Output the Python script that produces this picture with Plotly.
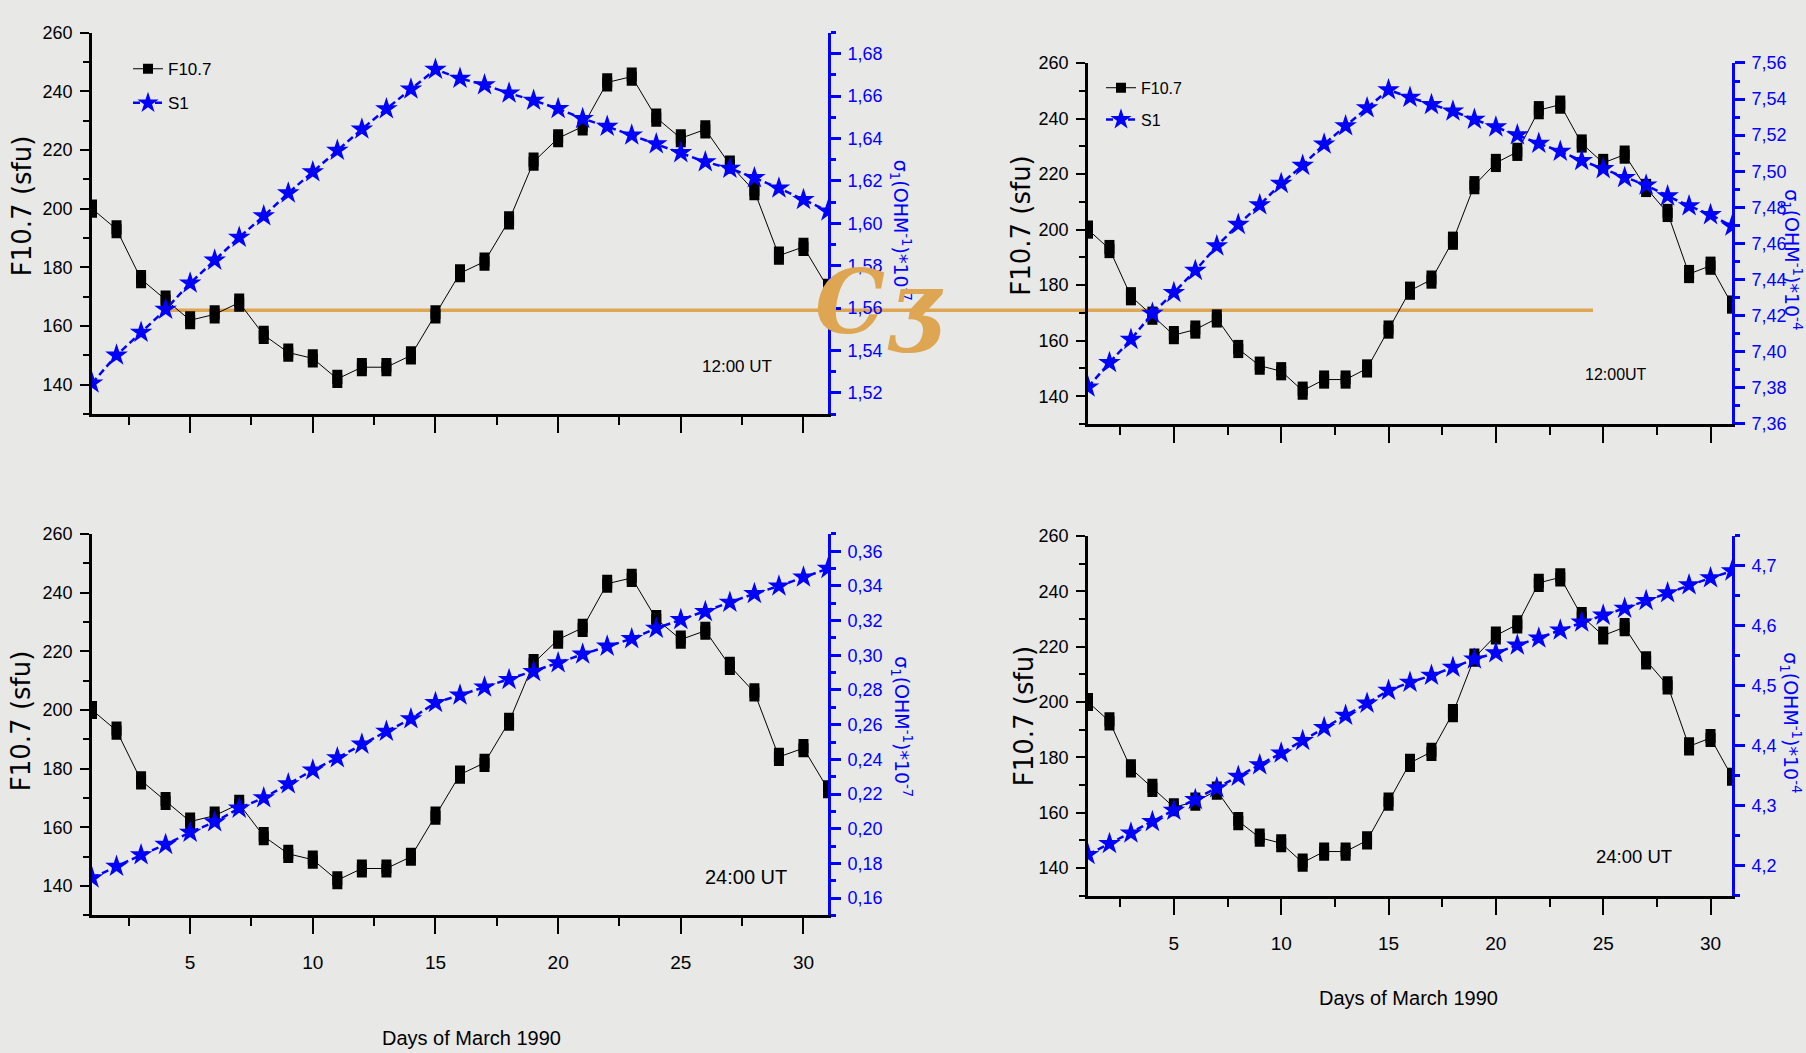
import plotly.graph_objects as go

W, H = 1806, 1053

days = list(range(1, 32))
f107 = [200, 193, 176, 169, 162, 164, 168, 157, 151, 149, 142, 146, 146, 150, 164, 178,
        182, 196, 216, 224, 228, 243, 245, 231, 224, 227, 215, 206, 184, 187, 173]

s1_12ut_e7 = [1.5246, 1.5378, 1.5486, 1.5594, 1.5718, 1.5826, 1.5934, 1.6035, 1.6143, 1.6243,
              1.6344, 1.6444, 1.6540, 1.6633, 1.6726, 1.6684, 1.6653, 1.6614, 1.6580, 1.6541,
              1.6494, 1.6457, 1.6416, 1.6375, 1.6333, 1.6290, 1.6259, 1.6215, 1.6166, 1.6112, 1.6058]
s1_12ut_e4 = [7.3804, 7.3940, 7.4068, 7.4213, 7.4328, 7.4450, 7.4586, 7.4705, 7.4814, 7.4932,
              7.5032, 7.5150, 7.5251, 7.5351, 7.5451, 7.5409, 7.5369, 7.5333, 7.5287, 7.5245,
              7.5201, 7.5154, 7.5110, 7.5059, 7.5014, 7.4965, 7.4923, 7.4863, 7.4808, 7.4759, 7.4696]
s1_24ut_e7 = [0.1716, 0.1783, 0.1849, 0.1909, 0.1979, 0.2039, 0.2118, 0.2178, 0.2258, 0.2338,
              0.2408, 0.2487, 0.2561, 0.2633, 0.2727, 0.2770, 0.2816, 0.2860, 0.2906, 0.2956,
              0.3006, 0.3052, 0.3095, 0.3155, 0.3205, 0.3251, 0.3305, 0.3355, 0.3399, 0.3450, 0.3500]
s1_24ut_e4 = [4.2186, 4.2371, 4.2546, 4.2737, 4.2923, 4.3102, 4.3299, 4.3491, 4.3682, 4.3879,
              4.4088, 4.4303, 4.4506, 4.4709, 4.4923, 4.5057, 4.5173, 4.5306, 4.5445, 4.5550,
              4.5677, 4.5794, 4.5927, 4.6060, 4.6176, 4.6292, 4.6421, 4.6548, 4.6682, 4.6798, 4.6913]

right_titles = ["σ<sub>1</sub>(OHM<sup>-1</sup>)*10<sup>-7</sup>",
                "σ<sub>1</sub>(OHM<sup>-1</sup>)*10<sup>-4</sup>",
                "σ<sub>1</sub>(OHM<sup>-1</sup>)*10<sup>-7</sup>",
                "σ<sub>1</sub>(OHM<sup>-1</sup>)*10<sup>-4</sup>"]
time_labels = ["12:00 UT", "12:00UT", "24:00 UT", "24:00 UT"]
x_title = "Days of March 1990"
left_title = "F10.7 (sfu)"

NARROW = "Liberation Sans Narrow, Arial Narrow, Liberation Sans, Arial, sans-serif"
WIDE = "DejaVu Sans, Verdana, sans-serif"
BLUE = "#0000ff"

# panel geometry in pixels: (left, right, top, bottom)
panels = [
    dict(px=(92, 828, 23, 412), s1=s1_12ut_e7, rr=[1.51, 1.69], dt=0.02, mdt=0.01, fmt=".2f", xlab=False,
         ltitle=(22, 200), rtitle=(900, 224), tlab=(737, 363, 17), legend="legend"),
    dict(px=(1088, 1732, 54, 422), s1=s1_12ut_e4, rr=[7.36, 7.56], dt=0.02, mdt=0.01, fmt=".2f", xlab=False,
         ltitle=(1021, 220), rtitle=(1792, 254), tlab=(1616, 372, 16), legend="legend2"),
    dict(px=(92, 828, 534, 923), s1=s1_24ut_e7, rr=[0.15, 0.37], dt=0.02, mdt=0.01, fmt=".2f", xlab=True,
         ltitle=(21, 725), rtitle=(902, 730), tlab=(746, 884, 20), legend=None, xt=(471, 1048)),
    dict(px=(1088, 1732, 536, 903), s1=s1_24ut_e4, rr=[4.15, 4.75], dt=0.1, mdt=0.05, fmt=".1f", xlab=True,
         ltitle=(1024, 720), rtitle=(1791, 726), tlab=(1634, 863, 18.5), legend=None, xt=(1408, 1007)),
]

def px2x(p):
    return p / W

def px2y(p):
    return 1 - p / H

fig = go.Figure()
layout = dict(
    width=W, height=H, margin=dict(l=0, r=0, t=0, b=0),
    paper_bgcolor="#e8e8e7", plot_bgcolor="rgba(0,0,0,0)",
    separators=",.", showlegend=True,
    annotations=[], shapes=[],
)

def ann(x, y, text, font, angle=0):
    return dict(x=px2x(x), y=px2y(y), xref="paper", yref="paper", text=text, textangle=angle,
                xanchor="center", yanchor="middle", showarrow=False, font=font)

for i, p in enumerate(panels, start=1):
    l, r, t, b = p["px"]
    xd = [px2x(l), px2x(r)]
    yd = [px2y(b), px2y(t)]
    xn = "" if i == 1 else str(i)
    yl = str(2 * i - 1) if i > 1 else ""
    yr = str(2 * i)
    xtop = str(i + 4)

    layout["xaxis" + xn] = dict(
        domain=xd, range=[1, 31], anchor="y" + yl, showline=True, linecolor="black", linewidth=3,
        ticks="outside", ticklen=16, tickwidth=2, tickcolor="black", tick0=0, dtick=5,
        minor=dict(ticks="outside", ticklen=8, tickwidth=2, tickcolor="black", tick0=0, dtick=2.5),
        showticklabels=p["xlab"], tickfont=dict(family=NARROW, size=19, color="black"),
        ticklabelstandoff=12, showgrid=False, zeroline=False,
    )
    layout["xaxis" + xtop] = dict(
        range=[1, 31], overlaying="x" + xn, anchor="y" + yl, side="top", showline=True,
        linecolor="black", linewidth=3, ticks="inside", ticklen=14, tickwidth=2, tickcolor="black",
        tick0=0, dtick=5,
        minor=dict(ticks="inside", ticklen=7, tickwidth=2, tickcolor="black", tick0=0, dtick=2.5),
        showticklabels=False, showgrid=False, zeroline=False,
    )
    layout["yaxis" + yl] = dict(
        domain=yd, range=[130, 260], anchor="x" + xn, side="left", showline=True, linecolor="black",
        linewidth=2.5, ticks="outside", ticklen=9, tickwidth=2, tickcolor="black", tick0=0, dtick=20,
        minor=dict(ticks="outside", ticklen=6, tickwidth=2, tickcolor="black", tick0=0, dtick=10),
        tickfont=dict(family=NARROW, size=18, color="black"), ticklabelstandoff=4,
        showgrid=False, zeroline=False,
    )
    layout["yaxis" + yr] = dict(
        range=p["rr"], overlaying="y" + yl, anchor="x" + xn, side="right", showline=True,
        linecolor=BLUE, linewidth=3, ticks="outside", ticklen=10, tickwidth=2.5, tickcolor=BLUE,
        tick0=0, dtick=p["dt"], tickformat=p["fmt"],
        minor=dict(ticks="outside", ticklen=5, tickwidth=2.5, tickcolor=BLUE, tick0=0, dtick=p["mdt"]),
        tickfont=dict(family=NARROW, size=18, color=BLUE), ticklabelstandoff=3,
        showgrid=False, zeroline=False,
    )

    show = p["legend"] is not None
    # F10.7: connecting line + legend square
    fig.add_trace(go.Scatter(
        x=days, y=f107, xaxis="x" + xn, yaxis="y" + yl, name="F10.7",
        mode="lines+markers", line=dict(color="black", width=1),
        marker=dict(symbol="square", size=10, color="black"),
        showlegend=show, legend=p["legend"] if show else None, legendgroup="f" + str(i),
    ))
    # F10.7: tall rectangular markers
    fig.add_trace(go.Scatter(
        x=days, y=f107, xaxis="x" + xn, yaxis="y" + yl, name="F10.7",
        mode="markers", marker=dict(symbol="line-ns", size=13, line=dict(color="black", width=10)),
        showlegend=False, legendgroup="f" + str(i), hoverinfo="skip",
    ))
    fig.add_trace(go.Scatter(
        x=days, y=p["s1"], xaxis="x" + xn, yaxis="y" + yr, name="S1",
        mode="lines+markers", line=dict(color=BLUE, width=2.5, dash="7px,4px"),
        marker=dict(symbol="star", size=17, color=BLUE),
        showlegend=show, legend=p["legend"] if show else None, legendgroup="s" + str(i),
    ))

    lx, ly = p["ltitle"]
    layout["annotations"].append(ann(lx, ly, left_title, dict(family=WIDE, size=26, color="black"), -90))
    rx, ry = p["rtitle"]
    layout["annotations"].append(ann(rx, ry, right_titles[i - 1], dict(family=WIDE, size=19, color=BLUE), 90))
    tx, ty, ts = p["tlab"]
    layout["annotations"].append(ann(tx, ty, time_labels[i - 1], dict(family=NARROW, size=ts, color="black")))
    if "xt" in p:
        ax, ay = p["xt"]
        layout["annotations"].append(ann(ax, ay, x_title, dict(family=NARROW, size=20, color="black")))

layout["legend"] = dict(x=px2x(128), y=px2y(42), xanchor="left", yanchor="top",
                        bgcolor="rgba(0,0,0,0)", font=dict(family=NARROW, size=17, color="black"),
                        tracegroupgap=9, itemwidth=30)
layout["legend2"] = dict(x=px2x(1101), y=px2y(62), xanchor="left", yanchor="top",
                         bgcolor="rgba(0,0,0,0)", font=dict(family=NARROW, size=16, color="black"),
                         tracegroupgap=8, itemwidth=30)

# decorative orange line and logo
ORANGE = "#dea553"
layout["shapes"].append(dict(type="line", xref="paper", yref="paper", x0=px2x(167), x1=px2x(1593),
                             y0=px2y(306), y1=px2y(306), line=dict(color=ORANGE, width=3.5), layer="below"))
layout["annotations"].append(ann(850, 298, "<b><i>C</i></b>",
                                 dict(family="DejaVu Serif, serif", size=88, color=ORANGE)))
layout["annotations"].append(ann(915, 300, "<b><i>ʒ</i></b>",
                                 dict(family="DejaVu Serif, serif", size=88, color=ORANGE)))

fig.update_layout(**layout)
fig.write_html("out.html")
